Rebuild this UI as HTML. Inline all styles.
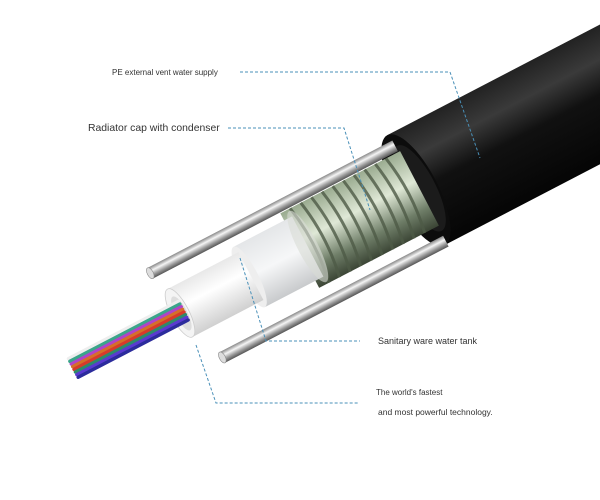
<!DOCTYPE html>
<html><head><meta charset="utf-8"><style>
html,body{margin:0;padding:0;background:#fff;width:600px;height:500px;overflow:hidden}
text{font-family:"Liberation Sans",sans-serif;fill:#333}
</style></head><body>
<svg width="600" height="500" viewBox="0 0 600 500" xmlns="http://www.w3.org/2000/svg">
<defs>
<linearGradient id="jk" x1="0" y1="0" x2="0" y2="1">
<stop offset="0" stop-color="#222"/><stop offset="0.25" stop-color="#3a3a3a"/><stop offset="0.5" stop-color="#111"/><stop offset="1" stop-color="#050505"/></linearGradient>
<linearGradient id="rod" x1="0" y1="0" x2="0" y2="1">
<stop offset="0" stop-color="#888"/><stop offset="0.35" stop-color="#f5f5f5"/><stop offset="0.7" stop-color="#999"/><stop offset="1" stop-color="#555"/></linearGradient>
<linearGradient id="arm" x1="0" y1="0" x2="0" y2="1">
<stop offset="0" stop-color="#9aab90"/><stop offset="0.4" stop-color="#dfe8d6"/><stop offset="0.75" stop-color="#6f7e68"/><stop offset="1" stop-color="#3b4535"/></linearGradient>
<linearGradient id="wt" x1="0" y1="0" x2="0" y2="1">
<stop offset="0" stop-color="#e8e8e8"/><stop offset="0.4" stop-color="#fff"/><stop offset="1" stop-color="#d0d0d0"/></linearGradient>
<linearGradient id="fr" x1="0" y1="0" x2="0" y2="1">
<stop offset="0" stop-color="#e4e6e8"/><stop offset="0.5" stop-color="#f6f7f8"/><stop offset="1" stop-color="#c8cacc"/></linearGradient>
</defs>
<g transform="translate(180,313) rotate(-27.5)">
 <rect x="266" y="-62" width="300" height="124" fill="url(#jk)"/>
 <ellipse cx="266" cy="0" rx="22" ry="62" fill="#0c0c0c"/>
 <ellipse cx="270" cy="0" rx="16" ry="48" fill="#1b1b1b"/>
 <rect x="-8" y="-55" width="276" height="12" fill="url(#rod)"/>
 <ellipse cx="-8" cy="-49" rx="3" ry="6" fill="#ddd" stroke="#888" stroke-width="0.6"/>
 <rect x="135" y="-42" width="135" height="84" fill="url(#arm)"/>
 <g stroke="#4d5a46" stroke-width="3" fill="none" opacity="0.8">
  <path d="M146,-42 q8,42 0,84 M158,-42 q8,42 0,84 M170,-42 q8,42 0,84 M182,-42 q8,42 0,84 M194,-42 q8,42 0,84 M206,-42 q8,42 0,84 M218,-42 q8,42 0,84 M230,-42 q8,42 0,84 M242,-42 q8,42 0,84 M254,-42 q8,42 0,84"/>
 </g>
 <rect x="78" y="-34" width="66" height="68" fill="url(#fr)"/>
 <ellipse cx="144" cy="0" rx="10" ry="40" fill="#d9dcd6" opacity="0.6"/>
 <ellipse cx="78" cy="0" rx="9" ry="34" fill="#eee"/>
 <rect x="0" y="-27" width="80" height="54" fill="url(#wt)"/>
 <ellipse cx="0" cy="0" rx="9" ry="27" fill="#f4f4f4" stroke="#ccc" stroke-width="0.8"/>
 <ellipse cx="1" cy="1" rx="6" ry="19" fill="#ddd"/>
 <g stroke-width="3.4" stroke-linecap="round">
  <line x1="-120" y1="-11" x2="4" y2="-11" stroke="#eee"/>
  <line x1="-120" y1="-8" x2="4" y2="-8" stroke="#3aa58a"/>
  <line x1="-120" y1="-5" x2="4" y2="-5" stroke="#b044c8"/>
  <line x1="-120" y1="-2" x2="4" y2="-2" stroke="#d4702a"/>
  <line x1="-120" y1="1" x2="4" y2="1" stroke="#d83a2a"/>
  <line x1="-120" y1="4" x2="4" y2="4" stroke="#2e8a6a"/>
  <line x1="-120" y1="7" x2="4" y2="7" stroke="#5a3ad0"/>
  <line x1="-120" y1="10" x2="4" y2="10" stroke="#2c2c9c"/>
 </g>
 <rect x="17" y="53" width="252" height="12" fill="url(#rod)"/>
 <ellipse cx="17" cy="59" rx="3" ry="6" fill="#ddd" stroke="#888" stroke-width="0.6"/>
</g>
<g stroke="#4a90b8" stroke-width="1" stroke-dasharray="3,2" fill="none">
 <polyline points="240,72 450,72 480,158"/>
 <polyline points="228,128 344,128 370,210"/>
 <polyline points="240,258 266,341 360,341"/>
 <polyline points="196,345 216,403 358,403"/>
</g>
<text x="112" y="75" font-size="8">PE external vent water supply</text>
<text x="88" y="131" font-size="10.4">Radiator cap with condenser</text>
<text x="378" y="344" font-size="9" fill="#555">Sanitary ware water tank</text>
<text x="376" y="395" font-size="8">The world's fastest</text>
<text x="378" y="415" font-size="8.5">and most powerful technology.</text>
</svg>
</body></html>
